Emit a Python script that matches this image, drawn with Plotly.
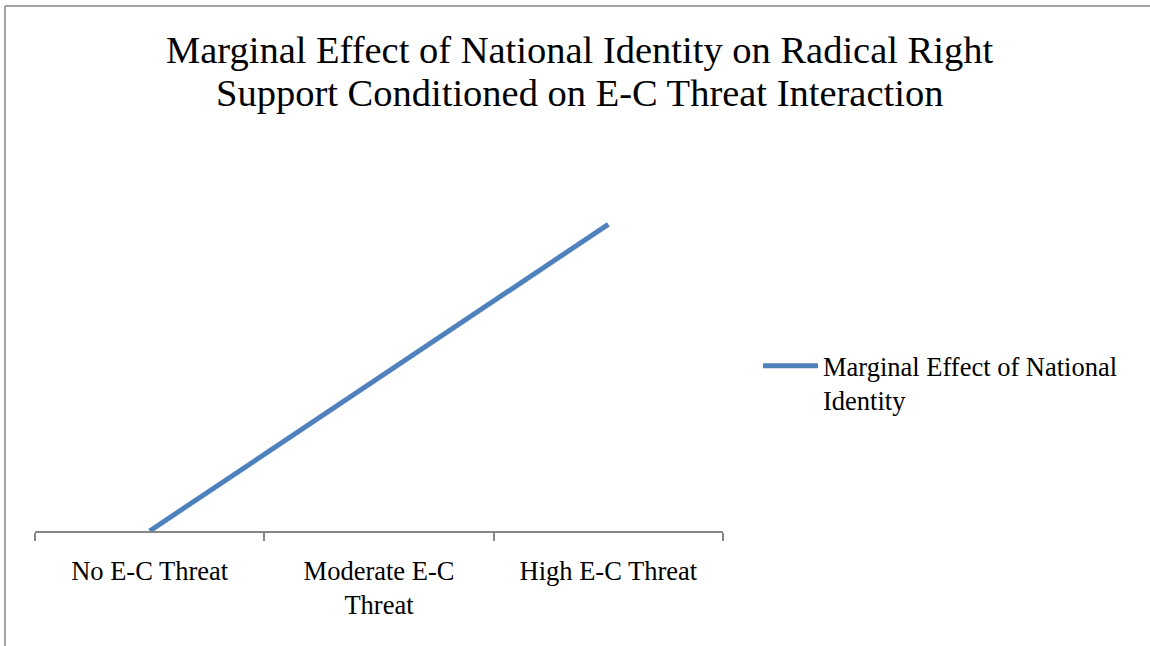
import plotly.graph_objects as go

categories = ["No E-C Threat", "Moderate E-C<br>Threat", "High E-C Threat"]
effect = [0.0, 0.05, 0.10]
series_name = "Marginal Effect of National<br>Identity"
title_lines = ["Marginal Effect of National Identity on Radical Right",
               "Support Conditioned on E-C Threat Interaction"]

W, H = 1150, 646
L, R, T, B = 35, 427, 163, 115
pw, ph = W - L - R, H - T - B

def px_x(x):
    return (x - L) / pw

def px_y(y):
    return (H - B - y) / ph

FONT = "Liberation Serif"
GRAY = "#868686"

fig = go.Figure()
fig.add_trace(go.Scatter(
    x=categories, y=effect, mode="lines", name=series_name,
    line=dict(color="#4F81BD", width=5),
))

annotations = []
for txt, cy in zip(title_lines, [50, 93]):
    annotations.append(dict(
        text=txt, x=px_x(579), y=px_y(cy), xref="paper", yref="paper",
        xanchor="center", yanchor="middle", showarrow=False,
        font=dict(family=FONT, size=38.5, color="black"),
    ))

border = [
    dict(type="line", xref="paper", yref="paper",
         x0=px_x(5), x1=px_x(1150), y0=px_y(6), y1=px_y(6),
         line=dict(color=GRAY, width=1.5), layer="below"),
    dict(type="line", xref="paper", yref="paper",
         x0=px_x(5), x1=px_x(5), y0=px_y(6), y1=px_y(646),
         line=dict(color=GRAY, width=1.5), layer="below"),
]

fig.update_layout(
    width=W, height=H,
    margin=dict(l=L, r=R, t=T, b=B, pad=0),
    paper_bgcolor="white", plot_bgcolor="white",
    showlegend=True,
    legend=dict(x=px_x(758), y=px_y(342), xanchor="left", yanchor="top",
                font=dict(family=FONT, size=26.5, color="black"),
                valign="top", itemwidth=55, bgcolor="rgba(0,0,0,0)"),
    annotations=annotations,
    xaxis=dict(
        type="category", range=[-0.5, 2.5], showgrid=False, zeroline=False,
        showline=True, linecolor=GRAY, linewidth=2,
        ticks="outside", tickson="boundaries", ticklen=8, tickwidth=1.5,
        tickcolor=GRAY, tickfont=dict(family=FONT, size=26.5, color="black"),
        ticklabelstandoff=15,
    ),
    yaxis=dict(range=[0, 0.12], visible=False, showgrid=False, zeroline=False),
    shapes=border,
)

fig.write_html(
    "out.html",
    config={"displayModeBar": False},
    post_script="document.body.style.margin='0';document.body.style.overflow='hidden';",
)
